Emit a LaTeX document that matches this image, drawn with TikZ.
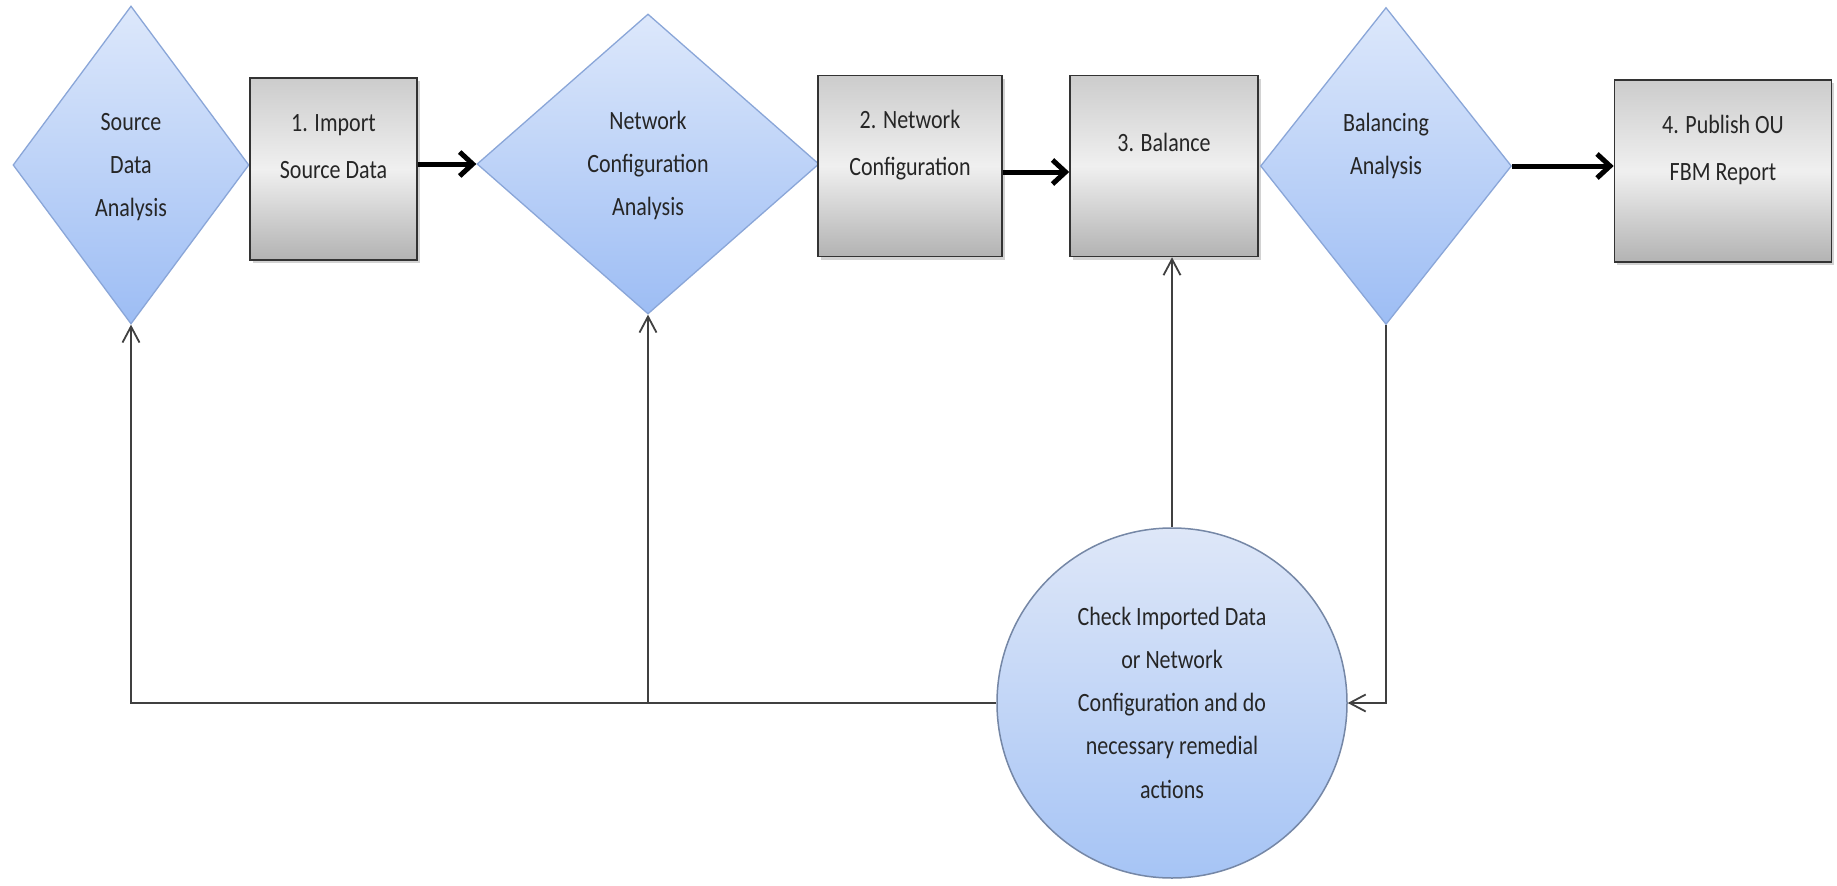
\documentclass[tikz,border=0pt]{standalone}
\usepackage{fontspec}
\setmainfont{Carlito}
\usepackage{graphicx}
\usetikzlibrary{shapes.geometric,arrows.meta,shadows}

% centred, slightly tall text block; #1 = line distance
\newcommand{\flowtext}[2]{\scalebox{1}[1.2]{\fontsize{22}{#1}\selectfont\begin{tabular}{@{}c@{}}#2\end{tabular}}}

\definecolor{diamtop}{HTML}{DDE8FB}
\definecolor{diambot}{HTML}{9DBDF4}
\definecolor{diamline}{HTML}{8AA6D8}
\definecolor{circtop}{HTML}{DEE7F8}
\definecolor{circbot}{HTML}{A6C4F5}
\definecolor{circline}{HTML}{7587A6}
\definecolor{txt}{HTML}{262626}

\tikzset{
  x=1pt, y=1pt,
  decision/.style={diamond, inner sep=0pt, draw=diamline, line width=1.3pt,
    top color=diamtop, bottom color=diambot, text=txt},
  stepbox/.style={rectangle, inner sep=0pt, draw=black!80, line width=1.6pt,
    top color=black!20, bottom color=black!30, middle color=black!6, text=txt,
    drop shadow={shadow xshift=2.5pt, shadow yshift=-3pt, opacity=0.35}},
  checkcirc/.style={circle, inner sep=0pt, minimum size=350pt, draw=circline,
    line width=1.5pt, top color=circtop, bottom color=circbot, text=txt},
  flow/.style={line width=5pt, black, -{Straight Barb[length=13pt,width=24pt]}},
  back/.style={line width=1.8pt, black!75, -{Straight Barb[length=16pt,width=17pt]}}
}

\begin{document}
\begin{tikzpicture}
  \path[use as bounding box, fill=white] (0,0) rectangle (1837,-886);

  % main chain of decisions and steps
  \node[decision, minimum width=236pt, minimum height=318pt] (d1) at (131,-165)
    {\flowtext{36}{Source\\Data\\Analysis}};
  \node[stepbox, minimum width=167pt, minimum height=182pt] (b1) at (333.5,-169)
    {\flowtext{39}{1. Import\\Source Data\\~}};
  \node[decision, minimum width=342pt, minimum height=300pt] (d2) at (648,-164)
    {\flowtext{36}{Network\\Configuration\\Analysis}};
  \node[stepbox, minimum width=184pt, minimum height=181pt] (b2) at (910,-166)
    {\flowtext{39}{2. Network\\Configuration\\~}};
  \node[stepbox, minimum width=188pt, minimum height=181pt] (b3) at (1164,-166)
    {\flowtext{39}{3. Balance\\~}};
  \node[decision, minimum width=251pt, minimum height=317pt] (d3) at (1386,-166)
    {\flowtext{36}{Balancing\\Analysis\\~}};
  \node[stepbox, minimum width=217pt, minimum height=182pt] (b4) at (1723,-171)
    {\flowtext{39}{4. Publish OU\\FBM Report\\~}};

  % remedial action
  \node[checkcirc] (circ) at (1172,-703)
    {\flowtext{36}{Check Imported Data\\or Network\\Configuration and do\\necessary remedial\\actions}};

  % forward flow
  \draw[flow] (b1.east |- d2.west) -- (d2.west);
  \draw[flow] ([yshift=-6pt]b2.east) -- ([yshift=-6pt]b3.west);
  \draw[flow] (d3.east) -- (d3.east -| b4.west);

  % feedback loops
  \draw[back] (d3.south) |- (circ.east);
  \draw[back] (circ.north) -- (circ.north |- b3.south);
  \draw[back] (circ.west) -| (d1.south);
  \draw[back] (d2.south |- circ.west) -- (d2.south);
\end{tikzpicture}
\end{document}
